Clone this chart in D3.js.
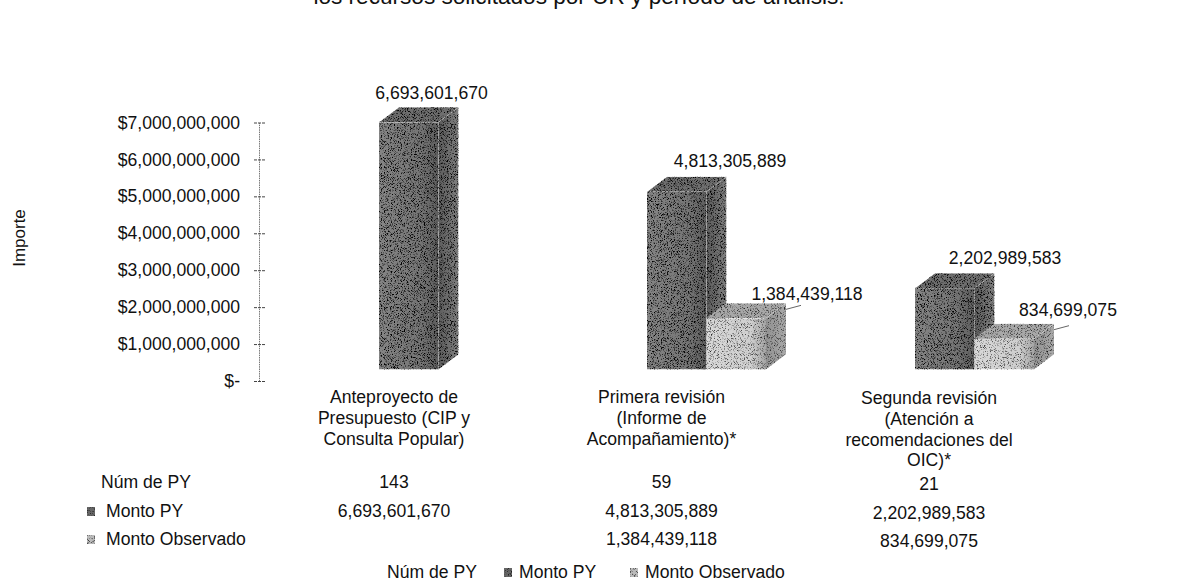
<!DOCTYPE html>
<html><head><meta charset="utf-8">
<script src="https://cdn.jsdelivr.net/npm/d3@7/dist/d3.min.js"></script>
<style>
html,body{margin:0;padding:0;background:#fff}
svg{display:block}
text{font-family:"Liberation Sans",Arial,sans-serif;fill:#111}
</style></head><body>
<svg id="c" width="1177" height="585"></svg>
<script>
const titleText = "los recursos solicitados por UR y período de análisis.";
const categories = ["Anteproyecto de Presupuesto", "Primera revisión", "Segunda revisión"];
const categoryLines = [
  ["Anteproyecto de", "Presupuesto (CIP y", "Consulta Popular)"],
  ["Primera revisión", "(Informe de", "Acompañamiento)*"],
  ["Segunda revisión", "(Atención a", "recomendaciones del", "OIC)*"]
];
const numPY = [143, 59, 21];
const montoPY = [6693601670, 4813305889, 2202989583];
const montoObservado = [null, 1384439118, 834699075];
const yTicks = [0, 1e9, 2e9, 3e9, 4e9, 5e9, 6e9, 7e9];
const seriesNames = ["Monto PY", "Monto Observado"];

const svg = d3.select("#c");
const fmt = d3.format(",");
const FS = 17.6;

const defs = svg.append("defs");
function grain(id, freq, slope, icpt) {
  const f = defs.append("filter").attr("id", id).attr("x", 0).attr("y", 0).attr("width", 1).attr("height", 1)
    .attr("color-interpolation-filters", "sRGB");
  f.append("feTurbulence").attr("type", "fractalNoise").attr("baseFrequency", freq).attr("numOctaves", 1).attr("seed", 4).attr("result", "n");
  f.append("feColorMatrix").attr("in", "n").attr("type", "matrix")
    .attr("values", "1 0 0 0 0  1 0 0 0 0  1 0 0 0 0  0 0 0 0 1").attr("result", "g");
  const t = f.append("feComponentTransfer").attr("in", "g").attr("result", "h");
  ["R", "G", "B"].forEach(c => t.append("feFunc" + c).attr("type", "linear").attr("slope", slope).attr("intercept", icpt));
  f.append("feBlend").attr("in", "SourceGraphic").attr("in2", "h").attr("mode", "multiply").attr("result", "b");
  f.append("feComposite").attr("in", "b").attr("in2", "SourceAlpha").attr("operator", "in");
}
grain("grainDark", 1.3, 4.5, -1.25);
grain("grainLight", 1.3, 3, -0.45);

const y = d3.scaleLinear().domain([0, 7e9]).range([381, 122.5]);
const groupX = d3.scalePoint().domain(categories).range([379, 915]);
const labelX = d3.scalePoint().domain(categories).range([394, 929]);
const seriesX = d3.scaleBand().domain(seriesNames).range([0, 119]);
const baseShift = -11.5, dx = 20, dy = -15;
const yBar = v => y(v) + baseShift;

svg.append("text").attr("x", 579).attr("y", 4).attr("text-anchor", "middle").attr("font-size", 22.6).text(titleText);
svg.append("text").attr("transform", "translate(25,238) rotate(-90)").attr("text-anchor", "middle").attr("font-size", 17).text("Importe");

const axis = d3.axisLeft(y).tickValues(yTicks).tickSize(0).tickPadding(19)
  .tickFormat(d => d === 0 ? "$-" : "$" + fmt(d));
const ga = svg.append("g").attr("transform", "translate(259,0)").call(axis);
ga.select(".domain").attr("stroke", "#777").attr("stroke-dasharray", "1.5 0.8");
ga.selectAll("text").attr("font-size", FS).attr("font-family", "Liberation Sans");
ga.selectAll(".tick line").attr("x1", -5).attr("x2", 6).attr("stroke", "#444").attr("stroke-dasharray", "3 1");

const bars = [];
categories.forEach((c, i) => {
  bars.push({ c, s: seriesNames[0], v: montoPY[i], i });
  if (montoObservado[i] != null) bars.push({ c, s: seriesNames[1], v: montoObservado[i], i });
});

function hGrad(id, stops) {
  const g = defs.append("linearGradient").attr("id", id);
  stops.forEach(([o, c]) => g.append("stop").attr("offset", o).attr("stop-color", c));
}
hGrad("sideDark", [[0, "#5c5c5c"], [1, "#808080"]]);
hGrad("sideLight", [[0, "#929292"], [1, "#aaaaaa"]]);
hGrad("frontDark", [[0, "#858585"], [0.7, "#757575"], [1, "#5e5e5e"]]);
hGrad("frontLight", [[0, "#d8d8d8"], [0.75, "#cfcfcf"], [1, "#a5a5a5"]]);
const palette = {
  "Monto PY": { front: "url(#frontDark)", side: "url(#sideDark)", top: "#6e6e6e", f: "url(#grainDark)" },
  "Monto Observado": { front: "url(#frontLight)", side: "url(#sideLight)", top: "#a8a8a8", f: "url(#grainLight)" }
};
const gb = svg.append("g").selectAll("g").data(bars).join("g").attr("filter", d => palette[d.s].f);
const geom = d => {
  const x0 = groupX(d.c) + seriesX(d.s), x1 = x0 + seriesX.bandwidth();
  return { x0, x1, yt: yBar(d.v), yb: yBar(0) };
};
const pts = a => a.map(p => p.join(",")).join(" ");
gb.append("polygon").attr("fill", d => palette[d.s].side).attr("points", d => {
  const g = geom(d);
  return pts([[g.x1, g.yt], [g.x1 + dx, g.yt + dy], [g.x1 + dx, g.yb + dy], [g.x1, g.yb]]);
});
gb.append("polygon").attr("fill", d => palette[d.s].top).attr("points", d => {
  const g = geom(d);
  return pts([[g.x0, g.yt], [g.x0 + dx, g.yt + dy], [g.x1 + dx, g.yt + dy], [g.x1, g.yt]]);
});
gb.append("rect").attr("fill", d => palette[d.s].front)
  .attr("x", d => geom(d).x0).attr("y", d => geom(d).yt)
  .attr("width", d => geom(d).x1 - geom(d).x0).attr("height", d => geom(d).yb - geom(d).yt);

const labelPos = [[431.5, 99], [730, 167], [807, 300], [1005, 264], [1068, 316]];
svg.append("g").selectAll("text").data(bars).join("text")
  .attr("x", (d, i) => labelPos[i][0]).attr("y", (d, i) => labelPos[i][1])
  .attr("text-anchor", "middle").attr("font-size", FS).text(d => fmt(d.v));

const leaders = bars.filter(d => d.s === seriesNames[1]);
svg.append("g").selectAll("line").data(leaders).join("line")
  .attr("x1", d => geom(d).x1 + dx).attr("y1", d => geom(d).yt + dy + 6)
  .attr("x2", d => geom(d).x1 + dx + 15).attr("y2", d => geom(d).yt + dy + 2)
  .attr("stroke", "#666").attr("stroke-width", 1);

const catY = [403, 403, 404];
const gc = svg.append("g").selectAll("text").data(categories).join("text")
  .attr("text-anchor", "middle").attr("font-size", FS)
  .attr("x", d => labelX(d)).attr("y", (d, i) => catY[i]);
gc.selectAll("tspan").data((d, i) => categoryLines[i].map(t => ({ t, x: labelX(d) }))).join("tspan")
  .attr("x", d => d.x).attr("dy", (d, i) => i ? 20.8 : 0).text(d => d.t);

const rows = [
  { name: "Núm de PY", y: 488, x: 101, vals: numPY, fmt: d => d },
  { name: "Monto PY", y: 517, x: 106, vals: montoPY, fmt: fmt, color: "#666" },
  { name: "Monto Observado", y: 545, x: 106, vals: montoObservado, fmt: fmt, color: "#bbb" }
];
const gr = svg.append("g").selectAll("g").data(rows).join("g");
gr.append("text").attr("x", d => d.x).attr("y", d => d.y).attr("font-size", FS).text(d => d.name);
gr.filter(d => d.color).append("rect").attr("x", 87).attr("y", d => d.y - 10).attr("width", 8).attr("height", 9)
  .attr("fill", d => d.color).attr("filter", "url(#grainLight)");
gr.selectAll(".v").data(d => d.vals.map((v, i) => ({ v, i, y: d.y, f: d.fmt })).filter(o => o.v != null)).join("text")
  .attr("class", "v").attr("text-anchor", "middle").attr("font-size", FS)
  .attr("x", d => labelX(categories[d.i])).attr("y", d => d.y + (d.i === 2 ? 2 : 0)).text(d => d.f(d.v));

const legendItems = [{ t: "Núm de PY", x: 387 }, { t: seriesNames[0], x: 519, c: "#666" }, { t: seriesNames[1], x: 645, c: "#bbb" }];
const gl = svg.append("g").selectAll("g").data(legendItems).join("g");
gl.append("text").attr("x", d => d.x).attr("y", 578).attr("font-size", FS).text(d => d.t);
gl.filter(d => d.c).append("rect").attr("x", d => d.x - 15).attr("y", 568).attr("width", 8).attr("height", 9)
  .attr("fill", d => d.c).attr("filter", "url(#grainLight)");
</script>
</body></html>
